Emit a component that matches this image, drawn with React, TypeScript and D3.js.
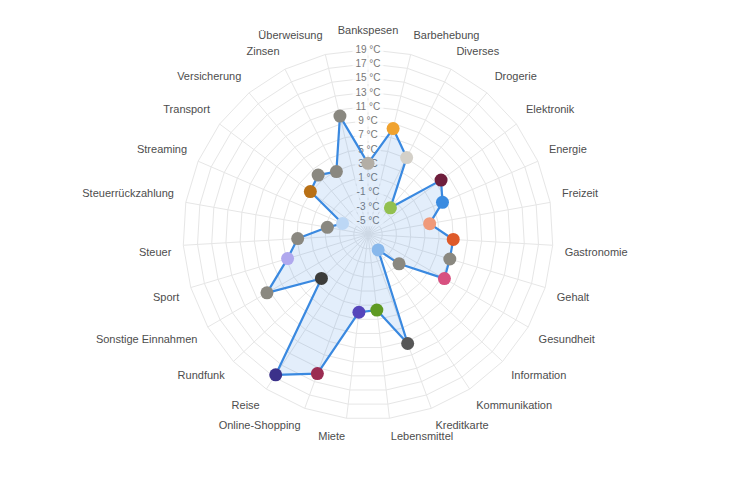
import React from "react";
import * as d3 from "d3";

const categories = [
  "Bankspesen", "Barbehebung", "Diverses", "Drogerie", "Elektronik", "Energie", "Freizeit",
  "Gastronomie", "Gehalt", "Gesundheit", "Information", "Kommunikation", "Kreditkarte",
  "Lebensmittel", "Miete", "Online-Shopping", "Reise", "Rundfunk", "Sonstige Einnahmen",
  "Sport", "Steuer", "Steuerrückzahlung", "Streaming", "Transport", "Versicherung", "Zinsen",
  "Überweisung",
];

const values = [
  3, 8.3, 5.1, -2.1, 5.8, 4.4, 1.8, 5.0, 5.0, 5.4, -1.0, -4.4, 9.3, 3.7, 4.0, 13.8, 16.6,
  2.0, 9.4, 4.8, 2.9, -1.2, -3.1, 3.1, 3.9, 2.9, 10.1,
];

const pointColors = [
  "#B3AEA6", "#F0A22E", "#D4D0C8", "#92C050", "#6E1E3C", "#3A8BE0", "#F09A7A",
  "#DE5A2A", "#8A8880", "#D85080", "#8A8880", "#88B8EC", "#575757", "#5E9A22",
  "#5545BB", "#9B2C52", "#3B318A", "#3C3C3A", "#8A8880", "#B0A8EE", "#8A8880",
  "#8A8880", "#BCD7F5", "#B87016", "#8A8880", "#8A8880", "#8A8880",
];

const tickValues = [-5, -3, -1, 1, 3, 5, 7, 9, 11, 13, 15, 17, 19];
const unit = "°C";

export default function App() {
  const W = 755, H = 483;
  const cx = 368, cy = 234.5;
  const R = 185;
  const n = categories.length;
  const r = d3.scaleLinear().domain([-7, 19]).range([0, R]);
  const ang = (i: number) => (i * 2 * Math.PI) / n;
  const pos = (i: number, rad: number): [number, number] => [
    cx + rad * Math.sin(ang(i)),
    cy - rad * Math.cos(ang(i)),
  ];

  const ringPath = (v: number) =>
    d3.line()(d3.range(n).map((i) => pos(i, r(v)))) + "Z";

  const dataPts = values.map((v, i) => pos(i, r(v)));
  const areaPath = d3.line()(dataPts) + "Z";

  const lh = 13.2;
  const labelR = R + 12;

  return (
    <svg
      width={W}
      height={H}
      style={{ position: "absolute", left: 0, top: 0, fontFamily: "'Liberation Sans', Arial, sans-serif" }}
    >
      <rect width={W} height={H} fill="#fff" />
      {tickValues.map((v) => (
        <path key={"ring" + v} d={ringPath(v)} fill="none" stroke="#e6e6e6" strokeWidth={1} />
      ))}
      {categories.map((c, i) => {
        const [x, y] = pos(i, R);
        return <line key={"sp" + i} x1={cx} y1={cy} x2={x} y2={y} stroke="#e6e6e6" strokeWidth={1} />;
      })}
      {tickValues.map((v) => {
        const y = cy - r(v);
        const label = `${v} ${unit}`;
        const w = label.length * 5.2 + 1;
        return (
          <g key={"tk" + v}>
            <rect x={cx - w / 2 - 2} y={y - 6} width={w + 4} height={12} fill="rgba(255,255,255,0.75)" />
            <text x={cx} y={y} textAnchor="middle" dominantBaseline="central" fontSize={10} fill="#777">
              {label}
            </text>
          </g>
        );
      })}
      {categories.map((c, i) => {
        const [x, y] = pos(i, labelR);
        const deg = Math.round((ang(i) * 180) / Math.PI);
        let anchor: "start" | "middle" | "end" = "start";
        if (deg === 0 || deg === 180) anchor = "middle";
        else if (deg > 180) anchor = "end";
        let top = y;
        if (deg === 90 || deg === 270) top = y - lh / 2;
        else if (deg > 270 || deg < 90) top = y - lh;
        return (
          <text key={"lb" + i} x={x} y={top + lh / 2 - 1} textAnchor={anchor} dominantBaseline="central" fontSize={11} fill="#4d4d4d">
            {c}
          </text>
        );
      })}
      <path d={areaPath} fill="rgba(58,137,224,0.14)" stroke="#3A89E0" strokeWidth={2.2} strokeLinejoin="round" />
      {dataPts.map(([x, y], i) => (
        <circle key={"pt" + i} cx={x} cy={y} r={6.5} fill={pointColors[i]} />
      ))}
    </svg>
  );
}
